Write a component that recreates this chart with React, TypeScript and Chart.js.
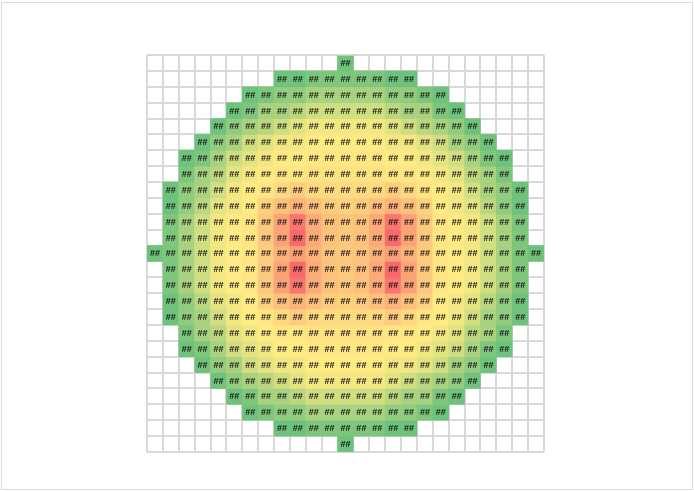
import React, { useEffect, useRef } from 'react';
import { Chart, registerables } from 'chart.js';

Chart.register(...registerables);

const N = null;

// Wafer columns (x) and rows (y)
const columnLabels = ['0','1','2','3','4','5','6','7','8','9','10','11','12','13','14','15','16','17','18','19','20','21','22','23','24'];
const rowLabels = ['0','1','2','3','4','5','6','7','8','9','10','11','12','13','14','15','16','17','18','19','20','21','22','23','24'];

// Cell values per wafer row (null = no die)
const row00 = [N,N,N,N,N,N,N,N,N,N,N,N,4,N,N,N,N,N,N,N,N,N,N,N,N];
const row01 = [N,N,N,N,N,N,N,N,4,4,9,9,9,9,9,4,4,N,N,N,N,N,N,N,N];
const row02 = [N,N,N,N,N,N,4,9,15,15,22,22,22,22,22,15,15,9,4,N,N,N,N,N,N];
const row03 = [N,N,N,N,N,4,9,22,22,28,35,35,35,35,35,28,22,22,9,4,N,N,N,N,N];
const row04 = [N,N,N,N,4,15,22,28,35,41,46,46,46,46,46,41,35,28,22,15,4,N,N,N,N];
const row05 = [N,N,N,4,15,22,35,41,46,46,50,50,50,50,50,46,46,41,35,22,15,4,N,N,N];
const row06 = [N,N,4,9,22,35,41,46,50,50,52,52,52,52,52,50,50,46,41,35,22,9,4,N,N];
const row07 = [N,N,9,22,28,41,46,50,52,52,54,54,54,54,54,52,52,50,46,41,28,22,9,N,N];
const row08 = [N,4,15,22,35,46,50,52,57,62,57,56,56,56,57,62,57,52,50,46,35,22,15,4,N];
const row09 = [N,4,15,28,41,46,50,60,66,72,66,62,60,62,66,72,66,60,50,46,41,28,15,4,N];
const row10 = [N,9,22,35,46,50,52,63,78,95,75,66,64,66,75,95,78,63,52,50,46,35,22,9,N];
const row11 = [N,9,22,35,46,50,52,63,78,100,75,66,64,66,75,100,78,63,52,50,46,35,22,9,N];
const row12 = [4,9,22,35,46,50,52,62,72,80,72,65,64,65,72,80,72,62,52,50,46,35,22,9,4];
const row13 = [N,9,22,35,46,50,52,63,78,100,75,66,64,66,75,100,78,63,52,50,46,35,22,9,N];
const row14 = [N,9,22,35,46,50,52,63,78,95,75,66,64,66,75,95,78,63,52,50,46,35,22,9,N];
const row15 = [N,4,15,28,41,46,50,60,66,72,66,62,60,62,66,72,66,60,50,46,41,28,15,4,N];
const row16 = [N,4,15,22,35,46,50,52,57,62,57,56,56,56,57,62,57,52,50,46,35,22,15,4,N];
const row17 = [N,N,9,22,28,41,46,50,52,52,54,54,54,54,54,52,52,50,46,41,28,22,9,N,N];
const row18 = [N,N,4,9,22,35,41,46,50,50,52,52,52,52,52,50,50,46,41,35,22,9,4,N,N];
const row19 = [N,N,N,4,15,22,35,41,46,46,50,50,50,50,50,46,46,41,35,22,15,4,N,N,N];
const row20 = [N,N,N,N,4,15,22,28,35,41,46,46,46,46,46,41,35,28,22,15,4,N,N,N,N];
const row21 = [N,N,N,N,N,4,9,22,22,28,35,35,35,35,35,28,22,22,9,4,N,N,N,N,N];
const row22 = [N,N,N,N,N,N,4,9,15,15,22,22,22,22,22,15,15,9,4,N,N,N,N,N,N];
const row23 = [N,N,N,N,N,N,N,N,4,4,9,9,9,9,9,4,4,N,N,N,N,N,N,N,N];
const row24 = [N,N,N,N,N,N,N,N,N,N,N,N,4,N,N,N,N,N,N,N,N,N,N,N,N];

const waferRows = [row00,row01,row02,row03,row04,row05,row06,row07,row08,row09,row10,row11,row12,row13,row14,row15,row16,row17,row18,row19,row20,row21,row22,row23,row24];

const cellText = '##';

// 3-colour scale
const scaleMin = 0;
const scaleMid = 50;
const scaleMax = 100;
const LOW = [99, 190, 123];
const MID = [255, 235, 132];
const HIGH = [248, 105, 107];

function mix(a: number[], b: number[], t: number) {
  const c = a.map((v, i) => Math.round(v + (b[i] - v) * t));
  return `rgb(${c[0]},${c[1]},${c[2]})`;
}

function colorFor(v: number | null) {
  if (v === null) return 'rgba(0,0,0,0)';
  if (v <= scaleMid) {
    const t = Math.max(0, (v - scaleMin) / (scaleMid - scaleMin));
    return mix(LOW, MID, t);
  }
  const t = Math.min(1, (v - scaleMid) / (scaleMax - scaleMid));
  return mix(MID, HIGH, t);
}

const labelPlugin = {
  id: 'cellLabels',
  afterDatasetsDraw(chart: any) {
    const ctx = chart.ctx;
    ctx.save();
    ctx.font = 'bold 9px "Liberation Sans", Arial, sans-serif';
    ctx.fillStyle = '#111111';
    ctx.textAlign = 'center';
    ctx.textBaseline = 'middle';
    chart.data.datasets.forEach((ds: any, i: number) => {
      const meta = chart.getDatasetMeta(i);
      meta.data.forEach((el: any, j: number) => {
        if (ds.data[j] === null) return;
        const p = el.getCenterPoint();
        ctx.fillText(cellText, p.x, p.y + 0.5);
      });
    });
    ctx.restore();
  },
};

export default function App() {
  const ref = useRef<HTMLCanvasElement | null>(null);

  useEffect(() => {
    if (!ref.current) return;
    const datasets = waferRows.map((row, r) => ({
      label: rowLabels[r],
      data: row.map((v) => (v === null ? null : [r, r + 1])),
      backgroundColor: row.map((v) => colorFor(v)),
      borderWidth: 0,
      barPercentage: 1,
      categoryPercentage: 1,
      grouped: false,
    }));
    const chart = new Chart(ref.current, {
      type: 'bar',
      data: { labels: columnLabels, datasets: datasets as any },
      options: {
        animation: false,
        responsive: false,
        maintainAspectRatio: false,
        layout: { padding: { left: 147, right: 150, top: 55, bottom: 39 } },
        plugins: {
          legend: { display: false },
          tooltip: { enabled: false },
          title: { display: false },
        },
        scales: {
          x: {
            type: 'category',
            offset: true,
            ticks: { display: false },
            grid: { offset: true, color: '#d9d9d9', lineWidth: 2, drawTicks: false },
            border: { display: false },
          },
          y: {
            type: 'linear',
            min: 0,
            max: 25,
            reverse: true,
            ticks: { display: false, stepSize: 1 },
            grid: { color: '#d9d9d9', lineWidth: 2, drawTicks: false },
            border: { display: false },
          },
        },
      },
      plugins: [labelPlugin],
    });
    return () => chart.destroy();
  }, []);

  return (
    <div style={{ position: 'absolute', left: 0, top: 0, width: 694, height: 491, background: '#fff' }}>
      <canvas ref={ref} width={694} height={491} style={{ position: 'absolute', left: 0, top: 0 }} />
      <div
        style={{
          position: 'absolute',
          left: 1,
          top: 2,
          width: 692,
          height: 488,
          border: '1px solid #dcdcdc',
          boxSizing: 'border-box',
          pointerEvents: 'none',
        }}
      />
    </div>
  );
}
